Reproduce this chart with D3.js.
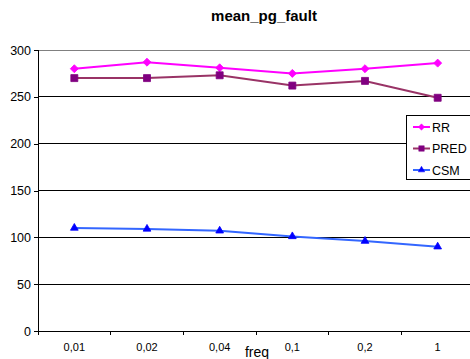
<!DOCTYPE html>
<html><head><meta charset="utf-8">
<script src="https://cdn.jsdelivr.net/npm/d3@7"></script>
<style>body{margin:0;background:#fff}svg{display:block}text{font-family:Arial,"Liberation Sans",sans-serif}</style>
</head><body>
<script>
const categories = ["0,01","0,02","0,04","0,1","0,2","1"];
const rr   = [280, 287, 281, 275, 280, 286];
const pred = [270, 270, 273, 262, 267, 249];
const csm  = [110, 109, 107, 101, 96, 90];
const yTicks = [0, 50, 100, 150, 200, 250, 300];
const seriesNames = ["RR","PRED","CSM"];

(function () {
const W = 470, H = 359;
const mLeft = 38, mRight = 474, mTop = 50, mBottom = 331;
const svg = d3.select("body").append("svg").attr("width", W).attr("height", H);

const x = d3.scaleBand().domain(categories).range([mLeft, mRight]);
const y = d3.scaleLinear().domain([0, 300]).range([mBottom, mTop]);

// gridlines
svg.append("g").selectAll("line").data(yTicks.filter(d => d > 0)).join("line")
  .attr("x1", mLeft).attr("x2", mRight)
  .attr("y1", d => y(d)).attr("y2", d => y(d))
  .attr("stroke", d => d === 300 ? "#808080" : "#000").attr("stroke-width", 1)
  .attr("shape-rendering", "crispEdges");

// y axis
const yAxis = d3.axisLeft(y).tickValues(yTicks).tickSize(4).tickPadding(3);
const gy = svg.append("g").attr("transform", `translate(${mLeft},0)`).call(yAxis);
gy.select(".domain").attr("stroke", "#000");
gy.selectAll(".tick line").attr("stroke", "#000");
gy.selectAll("text").attr("font-size", 12.5).attr("fill", "#000").attr("font-family", "Arial, 'Liberation Sans', sans-serif");

// x axis with ticks at band boundaries
const gx = svg.append("g").attr("transform", `translate(0,${mBottom})`);
gx.append("line").attr("x1", mLeft).attr("x2", mRight).attr("stroke", "#000").attr("stroke-width", 1);
const bounds = categories.map(c => x(c));
gx.selectAll("line.t").data(bounds).join("line").attr("class", "t")
  .attr("x1", d => d).attr("x2", d => d).attr("y1", 0).attr("y2", 4).attr("stroke", "#000");
gx.selectAll("text").data(categories).join("text")
  .attr("x", d => x(d) + x.bandwidth() / 2).attr("y", 20)
  .attr("text-anchor", "middle").attr("font-size", 11).attr("fill", "#000").text(d => d);

svg.selectAll("g, line").attr("shape-rendering", "crispEdges");

// axis title
svg.append("text").attr("x", 257).attr("y", 357).attr("text-anchor", "middle")
  .attr("font-size", 14).text("freq");
// chart title
svg.append("text").attr("x", 264).attr("y", 20.5).attr("text-anchor", "middle")
  .attr("font-size", 15).attr("font-weight", "bold").text("mean_pg_fault");

const cx = c => x(c) + x.bandwidth() / 2;
const series = [
  {name: "RR", data: rr, line: "#FF00FF", fill: "#FF00FF", sym: d3.symbolSquare, rot: 45, size: 32, lsize: 20},
  {name: "PRED", data: pred, line: "#993366", fill: "#800080", sym: d3.symbolSquare, rot: 0, size: 49, lsize: 30},
  {name: "CSM", data: csm, line: "#3366FF", fill: "#0000FF", sym: d3.symbolTriangle, rot: 0, size: 26, lsize: 18}
];
const line = d3.line().x((d, i) => cx(categories[i])).y(d => y(d));
series.forEach(s => {
  svg.append("path").attr("d", line(s.data)).attr("fill", "none")
    .attr("stroke", s.line).attr("stroke-width", 2);
  svg.append("g").selectAll("path").data(s.data).join("path")
    .attr("transform", (d, i) => `translate(${cx(categories[i])},${y(d)}) rotate(${s.rot})`)
    .attr("d", d3.symbol().type(s.sym).size(s.size))
    .attr("fill", s.fill).attr("stroke", s.fill).attr("stroke-width", 0.8);
});

// legend
const lg = svg.append("g");
lg.append("rect").attr("x", 406.5).attr("y", 115.5).attr("width", 70).attr("height", 64)
  .attr("fill", "#fff").attr("stroke", "#000");
series.forEach((s, i) => {
  const yy = 127 + i * 21.5;
  lg.append("line").attr("x1", 413).attr("x2", 430).attr("y1", yy).attr("y2", yy)
    .attr("stroke", s.line).attr("stroke-width", 2);
  lg.append("path").attr("transform", `translate(421.5,${yy}) rotate(${s.rot})`)
    .attr("d", d3.symbol().type(s.sym).size(s.lsize)).attr("fill", s.fill).attr("stroke", s.fill).attr("stroke-width", 0.5);
  lg.append("text").attr("x", 432).attr("y", yy + 4.5).attr("font-size", 12.5).text(seriesNames[i]);
});
})();
</script>
</body></html>
